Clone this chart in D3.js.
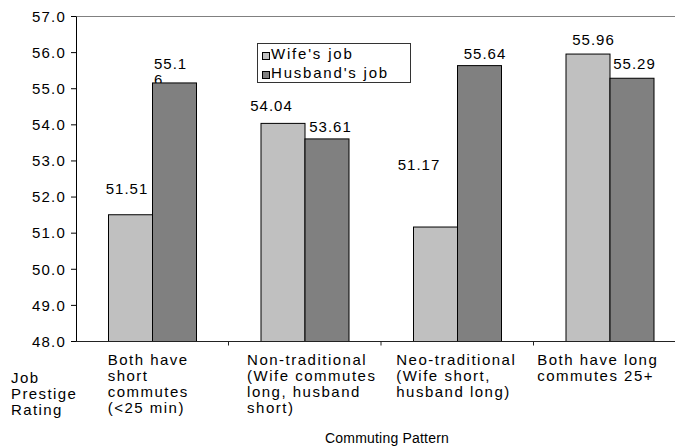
<!DOCTYPE html>
<html>
<head>
<meta charset="utf-8">
<script src="https://cdn.jsdelivr.net/npm/d3@7"></script>
<style>
  html, body { margin: 0; padding: 0; background: #fff; }
  svg { display: block; font-family: "Liberation Sans", Arial, sans-serif; }
</style>
</head>
<body>
<div id="chart"></div>
<script>
// data
const categories = [
  ['Both have', 'short', 'commutes', '(<25 min)'],
  ['Non-traditional', '(Wife commutes', 'long, husband', 'short)'],
  ['Neo-traditional', '(Wife short,', 'husband long)'],
  ['Both have long', 'commutes 25+']
];
const seriesNames = ["Wife's job", "Husband's job"];
const wifeJob = [51.51, 54.04, 51.17, 55.96];
const husbandJob = [55.16, 53.61, 55.64, 55.29];
const yTicks = [48, 49, 50, 51, 52, 53, 54, 55, 56, 57];

// hand-placed label nudges (dx from bar centre, gap above bar top), like the original
const labelNudge = [
  [[-3, 20], [-4, 13]],
  [[-11, 12], [4, 6]],
  [[-16, 57], [6, 6]],
  [[6, 9], [3, 9]]
];
// category label blocks aren't quite centred in the original
const catNudge = [-4, 7, -1, -12];

const W = 675, H = 448;
const margin = { top: 16, left: 76 };
const plotW = 610, plotH = 325;
const colors = ['#c0c0c0', '#808080'];
const fs = 15;

const svg = d3.select('#chart').append('svg').attr('width', W).attr('height', H);
const g = svg.append('g').attr('transform', `translate(${margin.left},${margin.top})`);

const x = d3.scaleBand().domain(d3.range(categories.length)).range([0, plotW]);
const xs = d3.scaleBand().domain([0, 1]).range([0, 88]);
const y = d3.scaleLinear().domain([48, 57]).range([plotH, 0]);

// plot frame top/right
g.append('path')
  .attr('d', `M0,0.5H${plotW}V${plotH}`)
  .attr('fill', 'none').attr('stroke', '#808080').attr('stroke-width', 1);

// y axis
const yAxis = g.append('g')
  .call(d3.axisLeft(y).tickValues(yTicks).tickFormat(d3.format('.1f')).tickSize(5).tickSizeOuter(0));
yAxis.select('.domain').attr('stroke', '#000');
yAxis.selectAll('line').attr('stroke', '#000');
yAxis.selectAll('text')
  .attr('x', -10).attr('dy', '0.35em')
  .attr('font-size', fs).attr('font-family', '"Liberation Sans", Arial, sans-serif')
  .attr('letter-spacing', 1.2).attr('fill', '#000');

// value labels (drawn first so bars cover the wrapped tail, as in the original)
const series = [wifeJob, husbandJob];
categories.forEach((c, i) => {
  series.forEach((vals, s) => {
    const cx = x(i) + 32 + xs(s) + xs.bandwidth() / 2;
    const [dx, gap] = labelNudge[i][s];
    const txt = d3.format('.2f')(vals[i]);
    const t = g.append('text')
      .attr('font-size', fs).attr('letter-spacing', 1).attr('fill', '#000');
    if (i === 0 && s === 1) {
      // label box too narrow: wraps to "55.1" / "6"
      const lx = x(i) + 32 + xs(s) + 2;
      t.append('tspan').attr('x', lx).attr('y', y(vals[i]) - gap).text(txt.slice(0, 4));
      t.append('tspan').attr('x', lx).attr('y', y(vals[i]) - gap + 16).text(txt.slice(4));
    } else {
      t.attr('x', cx + dx).attr('y', y(vals[i]) - gap)
        .attr('text-anchor', 'middle').text(txt);
    }
  });
});

// bars
categories.forEach((c, i) => {
  series.forEach((vals, s) => {
    g.append('rect')
      .attr('x', x(i) + 32 + xs(s) + 0.5)
      .attr('y', y(vals[i]) + 0.5)
      .attr('width', xs.bandwidth())
      .attr('height', y(48) - y(vals[i]))
      .attr('fill', colors[s])
      .attr('stroke', '#000').attr('stroke-width', 1);
  });
});

// x axis
const xAxis = g.append('g').attr('transform', `translate(0,${plotH + 0.5})`);
xAxis.append('line').attr('x1', 0).attr('x2', plotW).attr('stroke', '#222');
d3.range(1, categories.length).forEach(i => {
  xAxis.append('line').attr('x1', x(i)).attr('x2', x(i)).attr('y1', 0).attr('y2', 4).attr('stroke', '#222');
});

// category labels: left-aligned lines, block roughly centred under category
categories.forEach((lines, i) => {
  const t = g.append('text').attr('font-size', fs).attr('letter-spacing', 1.5).attr('fill', '#000');
  lines.forEach((ln, k) => {
    t.append('tspan').attr('x', 0).attr('y', plotH + 24 + k * 16).text(ln);
  });
  const w = d3.max(t.selectAll('tspan').nodes(), n => n.getComputedTextLength());
  t.selectAll('tspan').attr('x', x(i) + x.bandwidth() / 2 - w / 2 + catNudge[i]);
});

// y title
const yt = svg.append('text').attr('font-size', fs).attr('letter-spacing', 1.4).attr('fill', '#000');
['Job', 'Prestige', 'Rating'].forEach((ln, k) => {
  yt.append('tspan').attr('x', 11).attr('y', 383 + k * 16).text(ln);
});

// x title
svg.append('text')
  .attr('x', 387).attr('y', 443).attr('text-anchor', 'middle')
  .attr('font-size', 14).attr('letter-spacing', 0.2).attr('fill', '#000')
  .text('Commuting Pattern');

// legend
const leg = svg.append('g').attr('transform', 'translate(257,43)');
leg.append('rect').attr('x', 0.5).attr('y', 0.5).attr('width', 153).attr('height', 39)
  .attr('fill', '#fff').attr('stroke', '#333');
seriesNames.forEach((n, k) => {
  leg.append('rect').attr('x', 5.5).attr('y', 9.5 + k * 19).attr('width', 7).attr('height', 7)
    .attr('fill', colors[k]).attr('stroke', '#000');
  leg.append('text').attr('x', 14).attr('y', 16 + k * 19 + 0)
    .attr('font-size', fs).attr('letter-spacing', 1.8).attr('fill', '#000').text(n);
});
</script>
</body>
</html>
